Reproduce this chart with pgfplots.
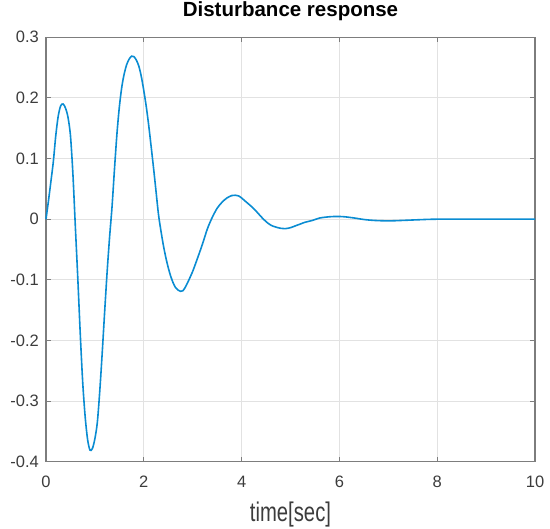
\documentclass[border=0pt]{standalone}
\usepackage{pgfplots}
\pgfplotsset{compat=1.18}
\usepackage{fontspec}
\setmainfont{Liberation Sans}
\definecolor{mlblue}{RGB}{10,140,210}
\definecolor{axgray}{RGB}{125,125,125}
\definecolor{gridgray}{RGB}{226,226,226}
\definecolor{lblgray}{RGB}{60,60,60}
\begin{document}
\begin{tikzpicture}
\begin{axis}[
  name=ax,
  scale only axis,
  width=489bp, height=424.4bp,
  xmin=0, xmax=10, ymin=-0.4, ymax=0.3,
  xtick={0,2,4,6,8,10},
  xticklabels={0,2,4,6,8,10},
  ytick={-0.4,-0.3,-0.2,-0.1,0,0.1,0.2,0.3},
  yticklabels={-0.4,-0.3,-0.2,-0.1,0,0.1,0.2,0.3},
  tick align=inside,
  major tick length=5bp,
  axis line style={draw=axgray, line width=1.2bp},
  every tick/.style={draw=axgray, line width=0.9bp},
  grid=major,
  major grid style={draw=gridgray, line width=0.9bp},
  tick label style={font=\fontsize{16.5bp}{18bp}\selectfont, text=lblgray},
  xticklabel style={anchor=base, inner sep=0pt, yshift=-25.5bp},
  yticklabel style={anchor=east, inner sep=0pt, xshift=-7bp},
  title={Disturbance response},
  title style={font=\fontsize{20.5bp}{24bp}\selectfont\bfseries, text=black, anchor=base, at={(axis description cs:0.5,1)}, yshift=14.6bp, inner sep=0pt},
  xlabel={\scalebox{0.75}[1]{time[sec]}},
  xlabel style={font=\fontsize{27bp}{30bp}\selectfont, text=lblgray, anchor=base, at={(axis description cs:0.5,0)}, yshift=-59.3bp, inner sep=0pt},
  clip=false,
]
\addplot[mlblue, line width=1.6bp, smooth, tension=0.5] coordinates {
(0,0) (0.05,0.03) (0.10,0.062) (0.15,0.095) (0.20,0.138) (0.25,0.170) (0.30,0.187) (0.35,0.190)
(0.40,0.183) (0.45,0.168) (0.50,0.138) (0.55,0.075) (0.60,-0.012) (0.65,-0.097) (0.70,-0.188)
(0.75,-0.268) (0.80,-0.325) (0.85,-0.363) (0.90,-0.381) (0.95,-0.378) (1.00,-0.362)
(1.05,-0.335) (1.10,-0.283) (1.15,-0.220) (1.20,-0.152) (1.25,-0.087) (1.30,-0.030)
(1.35,0.020) (1.40,0.082) (1.45,0.140) (1.50,0.185) (1.55,0.218) (1.60,0.240) (1.65,0.255)
(1.70,0.264) (1.75,0.269) (1.80,0.268) (1.85,0.262) (1.90,0.252) (1.95,0.235) (2.00,0.212)
(2.05,0.186) (2.10,0.155) (2.15,0.120) (2.20,0.084) (2.25,0.046) (2.30,0.008) (2.35,-0.019)
(2.40,-0.043) (2.45,-0.063) (2.50,-0.080) (2.55,-0.094) (2.60,-0.105) (2.65,-0.113)
(2.70,-0.117) (2.75,-0.119) (2.80,-0.118) (2.85,-0.112) (2.90,-0.104) (3.00,-0.086)
(3.10,-0.064) (3.20,-0.041) (3.30,-0.016) (3.40,0.003) (3.50,0.018) (3.60,0.028)
(3.70,0.035) (3.80,0.039) (3.87,0.0395) (3.95,0.038) (4.00,0.035) (4.10,0.028) (4.20,0.021)
(4.30,0.013) (4.40,0.004) (4.50,-0.004) (4.60,-0.010) (4.70,-0.013) (4.80,-0.015)
(4.90,-0.0155) (5.00,-0.014) (5.10,-0.011) (5.20,-0.008) (5.30,-0.005) (5.45,-0.002)
(5.60,0.002) (5.80,0.004) (5.95,0.0045) (6.10,0.004) (6.30,0.002) (6.50,-0.0005)
(6.70,-0.002) (7.00,-0.0028) (7.30,-0.002) (7.60,-0.001) (8.00,0) (9.00,0) (10.00,0)
};
\end{axis}
\pgfresetboundingbox
\path (ax.south west) ++(-46bp,-67.3bp) rectangle ++(550bp,529bp);
\end{tikzpicture}
\end{document}
